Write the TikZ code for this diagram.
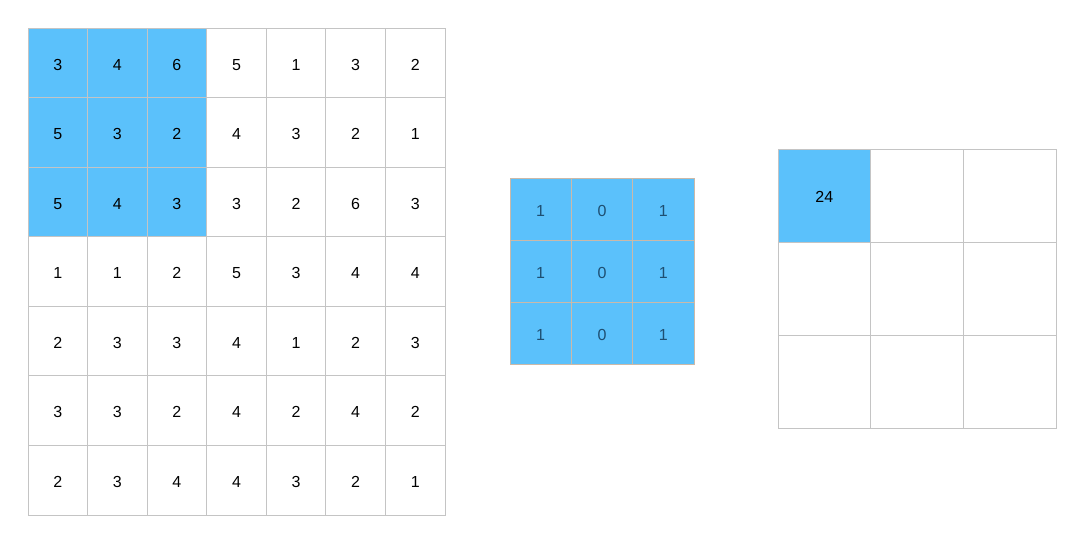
\documentclass[tikz,border=0pt]{standalone}
\usepackage{fontspec}
\setmainfont{Liberation Sans}
\usetikzlibrary{positioning}

\definecolor{cellblue}{HTML}{5BC1FB}
\definecolor{gridgray}{HTML}{C4C4C4}
\definecolor{kernline}{HTML}{CBB9A8}
\definecolor{kerntext}{HTML}{1E4F72}

\begin{document}
\begin{tikzpicture}[
    x=1pt, y=1pt,
    font=\fontsize{16}{19}\selectfont,
    every node/.style={text height=14.5pt, text depth=0pt},
    cell/.style={draw=gridgray, line width=0.9pt, inner sep=0pt,
                 minimum width=59.57pt, minimum height=69.57pt},
    hot/.style={cell, fill=cellblue},
    cold/.style={cell, fill=white},
    kern/.style={draw=kernline, line width=0.9pt, inner sep=0pt, fill=cellblue,
                 text=kerntext, minimum width=61.33pt, minimum height=62pt},
    outcell/.style={draw=gridgray, line width=0.9pt, inner sep=0pt, fill=white,
                    minimum width=92.67pt, minimum height=93pt}
  ]
  \useasboundingbox (0,0) rectangle (1092,-546);

  % ---- input image 7x7 ----
  \foreach \vals [count=\r] in {{3,4,6,5,1,3,2},{5,3,2,4,3,2,1},{5,4,3,3,2,6,3},
                               {1,1,2,5,3,4,4},{2,3,3,4,1,2,3},{3,3,2,4,2,4,2},
                               {2,3,4,4,3,2,1}}{
    \foreach \v [count=\c] in \vals {
      \ifnum\r<4 \ifnum\c<4 \def\sty{hot}\else\def\sty{cold}\fi\else\def\sty{cold}\fi
      \node[\sty] (in-\r-\c) at ({28+(\c-0.5)*59.57},{-28-(\r-0.5)*69.57}) {\v};
    }
  }

  % ---- kernel 3x3 ----
  \foreach \vals [count=\r] in {{1,0,1},{1,0,1},{1,0,1}}{
    \foreach \v [count=\c] in \vals {
      \node[kern] (k-\r-\c) at ({510+(\c-0.5)*61.33},{-178-(\r-0.5)*62}) {\v};
    }
  }

  % ---- output 3x3 ----
  \foreach \r in {1,2,3}{
    \foreach \c in {1,2,3}{
      \node[outcell] (out-\r-\c) at ({778+(\c-0.5)*92.67},{-149-(\r-0.5)*93}) {};
    }
  }
  \node[outcell, fill=cellblue] (out-1-1) at ({778+0.5*92.67},{-149-0.5*93}) {24};

\end{tikzpicture}
\end{document}
